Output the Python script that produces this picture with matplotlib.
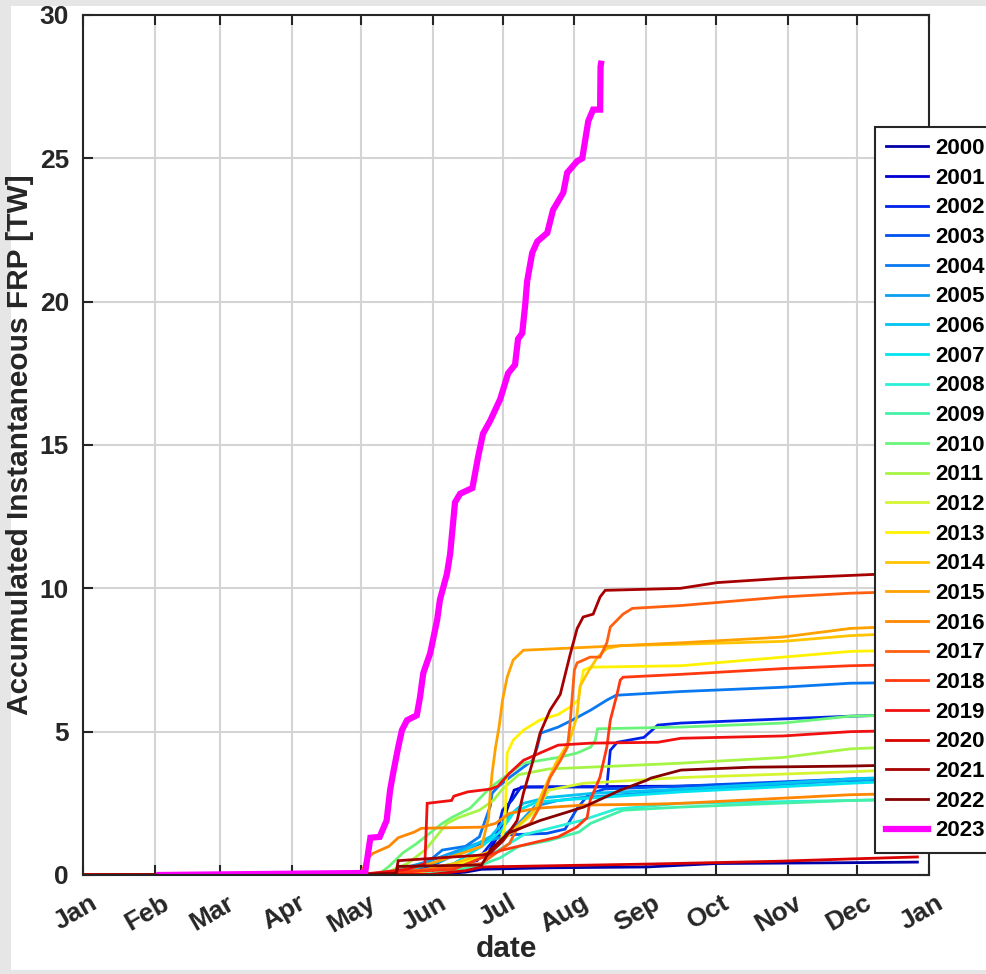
import matplotlib
matplotlib.use('Agg')
import matplotlib.pyplot as plt
from matplotlib.patches import Rectangle
from matplotlib.transforms import ScaledTranslation

plt.rcParams['font.family'] = ['Liberation Sans', 'DejaVu Sans']
plt.rcParams['font.weight'] = 'bold'

# day of year (0 = Jan 1) and accumulated FRP [TW]
days_2000 = [0, 150, 165, 172, 200, 243, 273, 331, 360]
frp_2000 = [0, 0.01, 0.1, 0.2, 0.25, 0.28, 0.4, 0.43, 0.45]
days_2001 = [0, 130, 160, 175, 180, 183, 186, 190, 258, 302, 331, 360]
frp_2001 = [0, 0.05, 0.3, 0.8, 1.5, 2.3, 2.96, 3.07, 3.1, 3.2, 3.3, 3.35]
days_2002 = [0, 140, 170, 178, 181, 185, 189, 226, 227.5, 230.5, 242, 248, 258, 331, 360]
frp_2002 = [0, 0.05, 0.5, 1.3, 2.26, 2.6, 3.07, 3.07, 4.35, 4.63, 4.8, 5.23, 5.3, 5.54, 5.6]
days_2003 = [0, 140, 150, 165, 178, 183, 200, 208, 213, 218, 225, 258, 331, 360]
frp_2003 = [0, 0.05, 0.3, 0.9, 1.3, 1.4, 1.45, 1.6, 2.3, 2.8, 3.0, 3.1, 3.35, 3.4]
days_2004 = [0, 135, 148, 155, 165, 171, 175.7, 176.5, 179, 184, 190, 194, 196, 197.5,
             205, 211, 219, 226, 230, 258, 302, 331, 360]
frp_2004 = [0, 0.05, 0.4, 0.87, 1.0, 1.33, 2.4, 2.85, 3.07, 3.4, 3.76, 4.0, 4.46, 4.95,
            5.16, 5.4, 5.75, 6.1, 6.27, 6.4, 6.55, 6.69, 6.72]
days_2005 = [0, 130, 150, 160, 170, 180, 188, 195, 205, 215, 258, 331, 360]
frp_2005 = [0, 0.05, 0.5, 0.8, 1.1, 1.3, 1.8, 2.4, 2.6, 2.7, 2.95, 3.3, 3.4]
days_2006 = [0, 135, 155, 168, 176, 183, 190, 200, 220, 258, 331, 360]
frp_2006 = [0, 0.05, 0.5, 1.0, 1.35, 2.0, 2.5, 2.7, 2.85, 3.0, 3.35, 3.45]
days_2007 = [0, 140, 160, 172, 180, 186, 196, 213, 258, 331, 360]
frp_2007 = [0, 0.05, 0.4, 1.0, 1.5, 2.2, 2.55, 2.65, 2.9, 3.2, 3.3]
days_2008 = [0, 140, 165, 178, 190, 200, 215, 230, 258, 331, 360]
frp_2008 = [0, 0.05, 0.4, 0.8, 1.4, 1.6, 1.9, 2.3, 2.5, 2.6, 2.65]
days_2009 = [0, 150, 170, 180, 188, 201, 214, 219, 225, 233, 258, 331, 360]
frp_2009 = [0, 0.05, 0.3, 0.6, 1.0, 1.2, 1.5, 1.8, 2.0, 2.26, 2.37, 2.6, 2.65]
days_2010 = [0, 128, 132, 138, 144, 155, 159, 167, 176, 184, 190, 205, 213, 219, 221,
             222, 258, 302, 331, 360]
frp_2010 = [0, 0.05, 0.3, 0.77, 1.1, 1.8, 2.0, 2.33, 3.07, 3.55, 3.9, 4.1, 4.25, 4.46, 4.7,
            5.1, 5.16, 5.3, 5.54, 5.6]
days_2011 = [0, 130, 140, 148, 157, 162, 171, 177, 181, 188, 201, 230, 258, 302, 331, 360]
frp_2011 = [0, 0.05, 0.4, 0.9, 1.8, 2.0, 2.26, 2.6, 3.0, 3.5, 3.7, 3.8, 3.9, 4.1, 4.4, 4.5]
days_2012 = [0, 140, 160, 175, 185, 195, 201, 216, 258, 331, 360]
frp_2012 = [0, 0.05, 0.3, 0.8, 1.5, 2.2, 2.96, 3.2, 3.4, 3.6, 3.7]
days_2013 = [0, 140, 160, 175, 180, 182, 182.5, 183, 185.6, 190, 197, 205, 210, 213.6,
             214.5, 216, 219, 258, 302, 331, 360]
frp_2013 = [0, 0.05, 0.3, 0.8, 1.1, 1.67, 2.85, 4.25, 4.7, 5.05, 5.4, 5.6, 5.85, 6.1,
            6.55, 7.15, 7.25, 7.3, 7.6, 7.8, 7.85]
days_2014 = [0, 140, 160, 175, 185, 195, 204, 210, 213, 214.5, 218, 222, 226, 232, 258,
             302, 331, 360]
frp_2014 = [0, 0.05, 0.4, 0.8, 1.5, 2.3, 3.9, 4.7, 5.5, 6.6, 7.1, 7.6, 7.9, 8.0, 8.05,
            8.15, 8.35, 8.45]
days_2015 = [0, 130, 150, 165, 172, 175, 175.7, 176.5, 178, 179.5, 181, 183, 185.6, 190,
             219, 258, 302, 331, 360]
frp_2015 = [0, 0.05, 0.4, 0.8, 1.0, 2.0, 2.85, 3.55, 4.46, 5.16, 6.1, 6.9, 7.5, 7.84,
            7.95, 8.1, 8.3, 8.6, 8.7]
days_2016 = [0, 120, 122, 125, 132, 136, 143, 146, 172, 178, 184, 196, 216, 245, 258,
             302, 331, 360]
frp_2016 = [0, 0.02, 0.5, 0.75, 1.0, 1.3, 1.5, 1.63, 1.67, 1.8, 2.15, 2.33, 2.44, 2.47,
            2.5, 2.68, 2.8, 2.85]
days_2017 = [0, 120, 150, 172, 180, 184, 187, 193, 197, 201.5, 206, 209, 210, 212, 213.2,
             218.8, 223, 226, 227.5, 233, 237, 258, 302, 331, 360]
frp_2017 = [0, 0.02, 0.2, 0.4, 0.87, 1.1, 1.57, 1.8, 2.37, 3.4, 4.0, 4.46, 5.16, 7.15, 7.4,
            7.6, 7.6, 8.1, 8.65, 9.1, 9.3, 9.4, 9.7, 9.83, 9.9]
days_2018 = [0, 120, 160, 172, 181, 193, 205, 213, 217.5, 218.8, 223, 226, 227.5, 230.5,
             231.8, 233, 258, 302, 331, 360]
frp_2018 = [0, 0.02, 0.2, 0.6, 0.87, 1.1, 1.33, 1.67, 2.0, 2.6, 3.4, 4.46, 5.4, 6.34,
            6.8, 6.9, 7.0, 7.2, 7.3, 7.35]
days_2019 = [0, 120, 140, 147.5, 148.5, 159, 160, 166, 176, 179, 184, 190, 197, 205, 219,
             248, 258, 302, 331, 360]
frp_2019 = [0, 0.02, 0.2, 0.4, 2.5, 2.6, 2.75, 2.9, 3.0, 3.1, 3.55, 4.0, 4.25, 4.53, 4.6,
            4.63, 4.77, 4.85, 5.0, 5.05]
days_2020 = [0, 150, 165, 172, 243, 300, 331, 360]
frp_2020 = [0, 0.02, 0.15, 0.28, 0.38, 0.48, 0.56, 0.63]
days_2021 = [0, 120, 135, 136, 172.6, 175.7, 181.3, 187.3, 190, 194.2, 197.2, 201.5,
             205.9, 210.2, 213.2, 215.8, 220.1, 223.1, 225.3, 257.7, 273.6, 302, 331, 360]
frp_2021 = [0, 0.02, 0.05, 0.5, 0.7, 0.77, 1.2, 1.9, 2.85, 4.0, 4.95, 5.75, 6.3, 7.7,
            8.6, 9.0, 9.1, 9.7, 9.93, 10.0, 10.2, 10.35, 10.45, 10.55]
days_2022 = [0, 120, 135, 136, 172, 175.7, 178.7, 183.4, 190, 197.2, 216, 231.8, 243,
             245, 258, 288, 331, 360]
frp_2022 = [0, 0.02, 0.05, 0.3, 0.35, 0.87, 1.1, 1.46, 1.67, 1.9, 2.37, 2.96, 3.3, 3.38,
            3.66, 3.76, 3.8, 3.85]
days_2023 = [33, 121.7, 124, 128, 131, 132.5, 133.8, 136, 137.6, 139.8, 144, 145.4, 146.8,
             149.8, 152.8, 154, 157, 158.4, 160.5, 162.7, 168, 170.5, 172.6, 175.7, 180,
             183.4, 186.4, 187.7, 189.5, 190.8, 191.6, 193.8, 196, 200.3, 202.8, 207.2,
             208.9, 213.2, 215.4, 218, 220.1, 223.1, 223.3, 223.5]
frp_2023 = [0, 0.07, 1.3, 1.33, 1.9, 2.96, 3.55, 4.46, 5.05, 5.4, 5.57, 6.2, 7.04,
            7.74, 8.9, 9.6, 10.5, 11.2, 13.0, 13.3, 13.5, 14.6, 15.4, 15.85, 16.6,
            17.5, 17.8, 18.7, 18.9, 19.9, 20.7, 21.7, 22.1, 22.4, 23.2, 23.8,
            24.5, 24.9, 25.0, 26.3, 26.7, 26.7, 28.2, 28.3]

years = list(range(2000, 2024))
all_days = [days_2000, days_2001, days_2002, days_2003, days_2004, days_2005, days_2006,
            days_2007, days_2008, days_2009, days_2010, days_2011, days_2012, days_2013,
            days_2014, days_2015, days_2016, days_2017, days_2018, days_2019, days_2020,
            days_2021, days_2022, days_2023]
all_frp = [frp_2000, frp_2001, frp_2002, frp_2003, frp_2004, frp_2005, frp_2006,
           frp_2007, frp_2008, frp_2009, frp_2010, frp_2011, frp_2012, frp_2013,
           frp_2014, frp_2015, frp_2016, frp_2017, frp_2018, frp_2019, frp_2020,
           frp_2021, frp_2022, frp_2023]

month_starts = [0, 31, 59, 90, 120, 151, 181, 212, 243, 273, 304, 334, 365]
month_labels = ['Jan', 'Feb', 'Mar', 'Apr', 'May', 'Jun', 'Jul', 'Aug', 'Sep', 'Oct',
                'Nov', 'Dec', 'Jan']

colors = ['#0000a8', '#0000d0', '#0022e8', '#0050f0', '#0a78f0', '#0a9ef0', '#00c4f2',
          '#00e4f0', '#2af0d8', '#44f0a8', '#6af57a', '#a6f545', '#d4f530', '#fff200',
          '#ffc400', '#ffa200', '#ff8600', '#ff6010', '#ff3810', '#f01010', '#d80000',
          '#a80000', '#860000', '#ff00ff']

dark = '#262626'

fig = plt.figure(figsize=(9.87, 9.74), dpi=100, facecolor='#e6e6e6')
fig.patches.append(Rectangle((11 / 987, 4 / 974), 1, 964 / 974, transform=fig.transFigure,
                             facecolor='white', edgecolor='none', zorder=-10))
ax = fig.add_axes([83 / 987, 1 - 875 / 974, 846 / 987, 860 / 974])

for i, yr in enumerate(years):
    lw = 4.5 if yr == 2023 else 2.0
    ax.plot(all_days[i], all_frp[i], color=colors[i], lw=lw, label=str(yr),
            solid_joinstyle='miter')

ax.set_xlim(0, 365)
ax.set_ylim(0, 30)
ax.set_xticks(month_starts)
ax.set_xticklabels(month_labels, rotation=30, ha='right', va='top', rotation_mode='anchor')
ax.set_yticks(range(0, 31, 5))
ax.tick_params(direction='in', length=7, width=1.5, color=dark, labelcolor=dark,
               labelsize=19, top=True, right=True, pad=10)
for lab in ax.get_xticklabels():
    lab.set_transform(lab.get_transform() + ScaledTranslation(0.06, -0.02, fig.dpi_scale_trans))
for s in ax.spines.values():
    s.set_linewidth(1.5)
    s.set_color(dark)
ax.grid(True, color='#d4d4d4', lw=1.5)
ax.set_axisbelow(True)

ax.set_ylabel('Accumulated Instantaneous FRP [TW]', fontsize=21.5, fontweight='bold', color=dark)
ax.yaxis.set_label_coords(-0.058, 0.5)
ax.set_xlabel('date', fontsize=21.5, fontweight='bold', color=dark)
ax.xaxis.set_label_coords(0.5, -0.07)

leg = ax.legend(loc='upper left', bbox_to_anchor=(875 / 987, 1 - 127 / 974),
                bbox_transform=fig.transFigure, fontsize=16, frameon=True, fancybox=False,
                handlelength=1.9, handletextpad=0.3, labelspacing=0.39, borderpad=0.5,
                borderaxespad=0)
leg.get_frame().set_edgecolor(dark)
leg.get_frame().set_linewidth(1.5)
leg.get_frame().set_alpha(1)
for t in leg.get_texts():
    t.set_color('black')

fig.savefig('out.png', dpi=100, facecolor=fig.get_facecolor())
